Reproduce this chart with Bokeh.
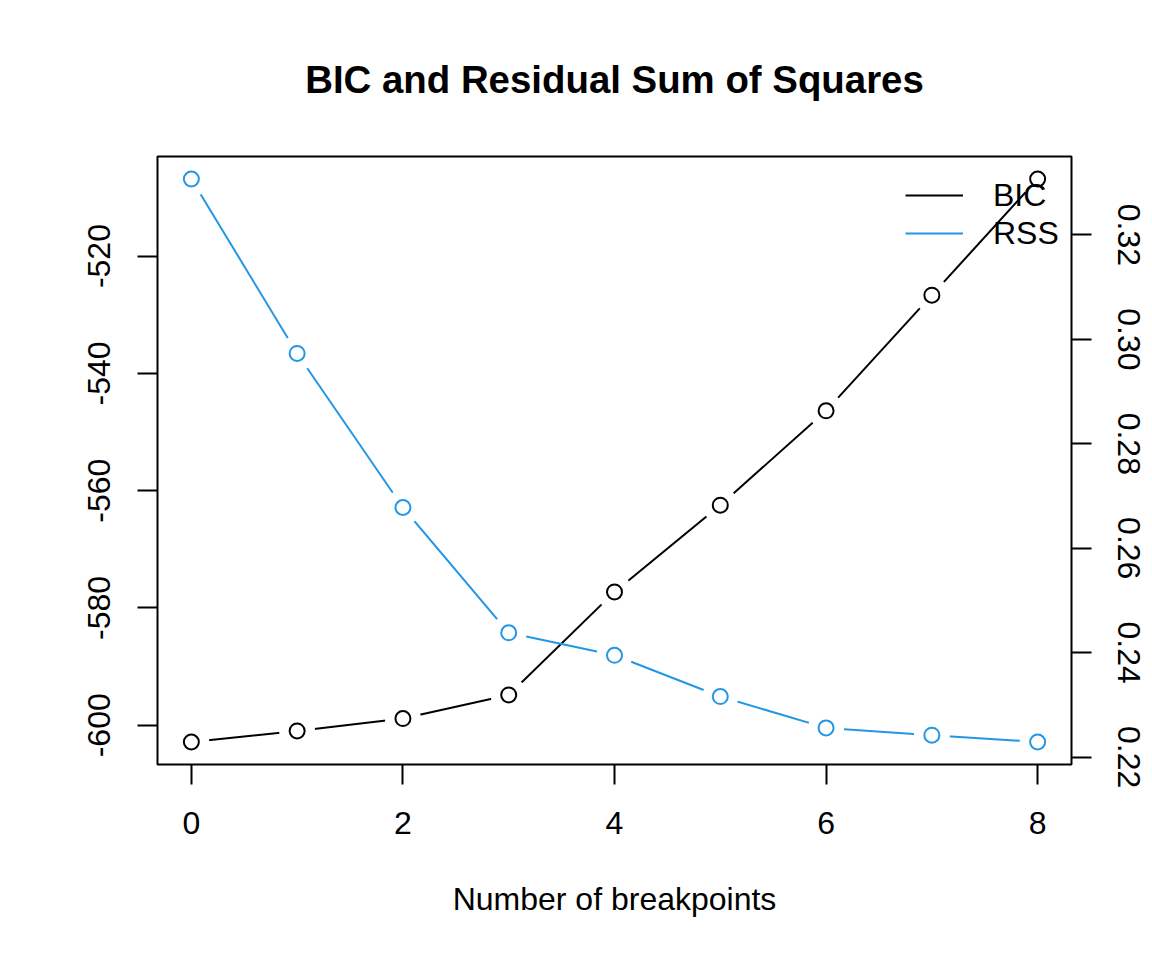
from bokeh.plotting import figure
from bokeh.models import (Range1d, LinearAxis, FixedTicker, Legend, LegendItem,
                          PrintfTickFormatter)
from bokeh.embed import file_html
from bokeh.resources import INLINE

# ---- data -------------------------------------------------------------
breakpoints = [0, 1, 2, 3, 4, 5, 6, 7, 8]
bic = [-602.85, -600.97, -598.86, -594.83, -577.26, -562.47, -546.39, -526.66, -506.86]
rss = [0.3307, 0.2973, 0.2678, 0.2438, 0.2395, 0.2316, 0.2256, 0.2242, 0.2229]
x_ticks = [0, 2, 4, 6, 8]
bic_ticks = [-600, -580, -560, -540, -520]
rss_ticks = [0.22, 0.24, 0.26, 0.28, 0.30, 0.32]
series_names = ["BIC", "RSS"]
title_text = "BIC and Residual Sum of Squares"
x_label = "Number of breakpoints"

BLUE = "#2297E6"
FONT = "Liberation Sans"


def r_range(vals):
    lo, hi = min(vals), max(vals)
    d = (hi - lo) * 0.04
    return lo - d, hi + d


p = figure(width=1152, height=960,
           x_range=Range1d(*r_range(breakpoints)),
           y_range=Range1d(*r_range(bic)),
           output_backend="svg", toolbar_location=None,
           min_border_left=157, min_border_right=81,
           min_border_top=156, min_border_bottom=196)
p.extra_y_ranges = {"rss": Range1d(*r_range(rss))}

p.outline_line_color = "black"
p.outline_line_width = 2
p.grid.visible = False
p.background_fill_color = "white"
p.border_fill_color = "white"

p.title.text = title_text
p.title.align = "center"
p.title.text_font = FONT
p.title.text_font_size = "38.4px"
p.title.text_font_style = "bold"
p.title.text_color = "black"
p.title.standoff = 111


def style_axis(ax, standoff):
    ax.axis_line_color = None
    ax.major_tick_out = 20
    ax.major_tick_in = 0
    ax.minor_tick_line_color = None
    ax.major_tick_line_width = 2
    ax.major_tick_line_color = "black"
    ax.major_label_text_font = FONT
    ax.major_label_text_font_size = "32px"
    ax.major_label_text_color = "black"
    ax.major_label_standoff = standoff


xa = p.xaxis[0]
xa.ticker = FixedTicker(ticks=x_ticks)
style_axis(xa, 27)
xa.axis_label = x_label
xa.axis_label_text_font = FONT
xa.axis_label_text_font_size = "32px"
xa.axis_label_text_font_style = "normal"
xa.axis_label_text_color = "black"
xa.axis_label_standoff = 44

ya = p.yaxis[0]
ya.ticker = FixedTicker(ticks=bic_ticks)
ya.formatter = PrintfTickFormatter(format="%d")
style_axis(ya, 27)
ya.major_label_orientation = "vertical"

ra = LinearAxis(y_range_name="rss", ticker=FixedTicker(ticks=rss_ticks),
                formatter=PrintfTickFormatter(format="%.2f"))
style_axis(ra, 26)
ra.major_label_orientation = "vertical"
p.add_layout(ra, "right")

# ---- BIC series (type = "b") ----
bic_line = p.line(breakpoints, bic, line_color="black", line_width=2)
# ---- RSS series ----
rss_line = p.line(breakpoints, rss, line_color=BLUE, line_width=2, y_range_name="rss")

# gaps around points, like R's type="b"
p.scatter(breakpoints, bic, size=36, fill_color="white", line_color=None)
p.scatter(breakpoints, rss, size=36, fill_color="white", line_color=None, y_range_name="rss")
p.scatter(breakpoints, bic, marker="circle", size=15, fill_color=None,
          line_color="black", line_width=2)
p.scatter(breakpoints, rss, marker="circle", size=15, fill_color=None,
          line_color=BLUE, line_width=2, y_range_name="rss")

legend = Legend(items=[LegendItem(label=series_names[0], renderers=[bic_line]),
                       LegendItem(label=series_names[1], renderers=[rss_line])],
                location=(748, 512),
                glyph_width=58, glyph_height=38, label_height=38,
                label_standoff=30, spacing=0, padding=0, margin=0,
                border_line_color=None, background_fill_alpha=0,
                label_text_font=FONT, label_text_font_size="32px",
                label_text_color="black")
p.add_layout(legend)

open("out.html", "w").write(file_html(p, INLINE))
